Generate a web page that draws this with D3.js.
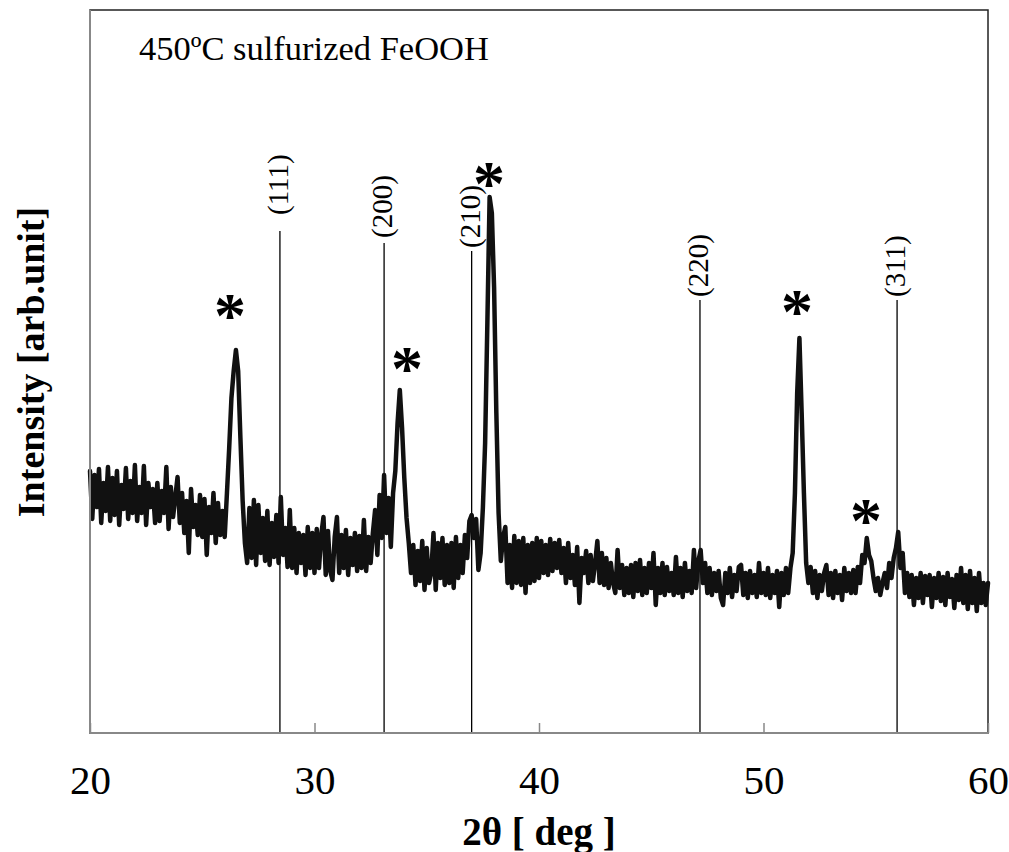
<!DOCTYPE html>
<html>
<head>
<meta charset="utf-8">
<script src="https://cdn.jsdelivr.net/npm/d3@7"></script>
<style>
  html, body { margin: 0; padding: 0; background: #fff; }
  svg { display: block; font-family: "Liberation Serif", "Times New Roman", serif; }
</style>
</head>
<body>
<div id="chart"></div>
<script>
// XRD pattern, 450C sulfurized FeOOH. Intensity, 0.1 deg steps from 20 to 60.
const SCAN_START = 20;
const SCAN_STEP = 0.1;
const counts = [
  262, 214, 258, 226, 264, 210, 250, 222, 266, 212,
  255, 218, 262, 208, 248, 224, 265, 214, 252, 220,
  268, 212, 246, 220, 267, 208, 250, 226, 244, 210,
  250, 212, 242, 220, 266, 204, 246, 216, 236, 256,
  210, 240, 200, 232, 180, 244, 206, 228, 198, 238,
  196, 234, 178, 226, 200, 240, 190, 230, 198, 222,
  196, 240, 285, 335, 362, 383, 362, 295, 232, 190,
  170, 225, 175, 233, 168, 228, 180, 215, 172, 222,
  168, 210, 176, 218, 170, 236, 178, 205, 166, 223,
  165, 205, 160, 200, 170, 198, 158, 206, 165, 200,
  160, 204, 165, 198, 216, 158, 202, 162, 153, 196,
  216, 160, 198, 165, 203, 158, 195, 168, 200, 162,
  197, 165, 213, 162, 196, 170, 200, 223, 178, 238,
  195, 258, 200, 235, 186, 240, 262, 310, 343, 305,
  255, 215, 190, 160, 188, 148, 182, 152, 192, 143,
  185, 150, 160, 200, 143, 190, 155, 195, 148, 188,
  150, 190, 145, 196, 155, 188, 160, 198, 175, 212,
  218, 195, 214, 163, 180, 225, 290, 410, 536, 520,
  445, 320, 220, 172, 196, 206, 150, 188, 145, 197,
  150, 192, 148, 195, 140, 188, 150, 190, 152, 195,
  155, 192, 160, 188, 158, 194, 162, 190, 165, 193,
  160, 185, 150, 190, 155, 178, 148, 186, 130, 175,
  160, 182, 150, 178, 152, 170, 192, 150, 180, 148,
  175, 145, 170, 150, 140, 183, 145, 168, 138, 165,
  140, 168, 136, 170, 142, 173, 138, 165, 140, 170,
  145, 180, 128, 165, 140, 170, 138, 166, 142, 160,
  138, 176, 140, 165, 136, 170, 142, 162, 140, 183,
  145, 172, 183, 150, 170, 140, 165, 138, 160, 142,
  162, 135, 128, 160, 140, 165, 136, 158, 142, 166,
  168, 138, 160, 135, 162, 140, 158, 136, 170, 140,
  160, 138, 165, 135, 158, 140, 162, 126, 160, 138,
  165, 140, 165, 180, 240, 340, 395, 320, 240, 170,
  150, 166, 140, 162, 135, 158, 142, 160, 168, 138,
  160, 135, 162, 140, 158, 133, 165, 142, 160, 140,
  163, 140, 166, 150, 178, 170, 195, 178, 172, 155,
  142, 155, 138, 150, 160, 145, 170, 155, 175, 185,
  201, 165, 180, 140, 160, 136, 158, 128, 155, 135,
  160, 130, 157, 138, 158, 126, 155, 135, 160, 132,
  156, 128, 160, 136, 154, 125, 158, 133, 165, 130,
  158, 124, 162, 130, 155, 122, 160, 130, 150, 128,
  150
];

// FeS2 reference reflections
const refLabels = ["(111)", "(200)", "(210)", "(220)", "(311)"];
const refAngles = [28.46, 33.1, 37.0, 47.17, 55.95];
const refHeights = [502, 490, 482, 433, 433];

// observed peaks marked with *
const starAngles = [26.24, 34.12, 37.77, 51.49, 54.57];
const starLevels = [426, 373, 558, 430, 221];

const xTicks = [20, 30, 40, 50, 60];
const xDomain = [20, 60];
const yDomain = [0, 723];

const title = "450ºC sulfurized FeOOH";
const xTitle = "2θ [ deg ]";
const yTitle = "Intensity [arb.unit]";

const width = 1009;
const height = 852;
const margin = { top: 10, right: 21, bottom: 119, left: 90 };

const svg = d3.select("#chart")
  .append("svg")
  .attr("width", width)
  .attr("height", height);

svg.append("rect").attr("width", width).attr("height", height).attr("fill", "#fff");

const x = d3.scaleLinear().domain(xDomain).range([margin.left, width - margin.right]);
const y = d3.scaleLinear().domain(yDomain).range([height - margin.bottom, margin.top]);

const scan = counts.map((c, i) => ({ t: SCAN_START + i * SCAN_STEP, c }));

// plot frame: dark top/right, grey axes left/bottom
svg.append("rect")
  .attr("x", x(xDomain[0]))
  .attr("y", y(yDomain[1]))
  .attr("width", x(xDomain[1]) - x(xDomain[0]))
  .attr("height", y(yDomain[0]) - y(yDomain[1]))
  .attr("fill", "none")
  .attr("stroke", "#222")
  .attr("stroke-width", 1.5);

// reference lines
svg.append("g")
  .selectAll("line")
  .data(refAngles)
  .join("line")
  .attr("x1", (d) => x(d))
  .attr("x2", (d) => x(d))
  .attr("y1", (d, i) => y(refHeights[i]))
  .attr("y2", y(0))
  .attr("stroke", "#000")
  .attr("stroke-width", 1.3);

const labelGap = [16, 5, 3, 3, 3];
svg.append("g")
  .selectAll("text")
  .data(refLabels)
  .join("text")
  .attr("transform", (d, i) => `translate(${x(refAngles[i]) + 8},${y(refHeights[i]) - labelGap[i]}) rotate(-90)`)
  .attr("font-size", 29)
  .attr("fill", "#000")
  .text((d) => d);

// the scan
svg.append("path")
  .datum(scan)
  .attr("fill", "none")
  .attr("stroke", "#111")
  .attr("stroke-width", 4.5)
  .attr("stroke-linejoin", "round")
  .attr("stroke-linecap", "round")
  .attr("d", d3.line().x((d) => x(d.t)).y((d) => y(d.c)));

// peak markers
svg.append("g")
  .selectAll("text")
  .data(starAngles)
  .join("text")
  .attr("x", (d) => x(d))
  .attr("y", (d, i) => y(starLevels[i]) + 30)
  .attr("text-anchor", "middle")
  .attr("font-size", 64)
  .attr("font-weight", "bold")
  .attr("fill", "#000")
  .text("*");

// axes
const xAxis = d3.axisBottom(x)
  .tickValues(xTicks)
  .tickSize(-10)
  .tickPadding(32)
  .tickFormat(d3.format("d"));

const gx = svg.append("g")
  .attr("transform", `translate(0,${y(0)})`)
  .call(xAxis);
gx.select(".domain").remove();
gx.selectAll(".tick line").attr("stroke", "#888").attr("stroke-width", 1.5);
gx.selectAll(".tick text")
  .attr("font-family", "Liberation Serif, Times New Roman, serif")
  .attr("font-size", 41)
  .attr("fill", "#000");

svg.append("line")
  .attr("x1", x(xDomain[0])).attr("x2", x(xDomain[1]))
  .attr("y1", y(0)).attr("y2", y(0))
  .attr("stroke", "#888").attr("stroke-width", 2);
svg.append("line")
  .attr("x1", x(xDomain[0])).attr("x2", x(xDomain[0]))
  .attr("y1", y(0)).attr("y2", y(yDomain[1]))
  .attr("stroke", "#888").attr("stroke-width", 2);

// titles
svg.append("text")
  .attr("x", 139)
  .attr("y", 60)
  .attr("font-size", 34.5)
  .attr("fill", "#000")
  .text(title);

svg.append("text")
  .attr("x", x(40))
  .attr("y", 845)
  .attr("text-anchor", "middle")
  .attr("font-size", 39)
  .attr("font-weight", "bold")
  .attr("fill", "#000")
  .text(xTitle);

svg.append("text")
  .attr("transform", `translate(44,362) rotate(-90)`)
  .attr("text-anchor", "middle")
  .attr("font-size", 38)
  .attr("font-weight", "bold")
  .attr("fill", "#000")
  .text(yTitle);
</script>
</body>
</html>
